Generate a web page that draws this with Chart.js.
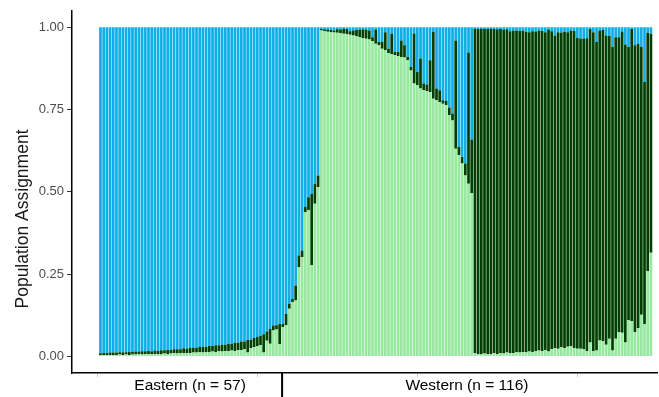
<!DOCTYPE html>
<html>
<head>
<meta charset="utf-8">
<script src="https://cdn.jsdelivr.net/npm/chart.js@4.4.1/dist/chart.umd.min.js"></script>
<style>
  html, body { margin: 0; padding: 0; background: #fff; }
  #wrap { width: 659px; height: 397px; }
</style>
</head>
<body>
<div id="wrap"><canvas id="structurePlot" width="659" height="397"></canvas></div>
<script>
// Population groups along the x axis
const groupLabels = ['Eastern (n = 57)', 'Western (n = 116)'];
const groupSizes = [57, 116];

const yTicks = [0, 0.25, 0.5, 0.75, 1];
const xTicks = [0, 50, 100, 150];

// Assignment probability of each individual to each cluster
const lightGreen = [
  0.004,0.004,0.005,0.005,0.004,0.005,0.006,0.005,0.006,0.005,
  0.006,0.006,0.007,0.006,0.007,0.007,0.008,0.007,0.008,0.008,
  0.009,0.008,0.009,0.010,0.009,0.010,0.011,0.010,0.011,0.012,
  0.012,0.013,0.012,0.014,0.013,0.015,0.014,0.016,0.015,0.017,
  0.016,0.018,0.017,0.020,0.019,0.022,0.012,0.025,0.028,0.031,
  0.035,0.012,0.048,0.039,0.079,0.082,0.038,0.089,0.095,0.145,
  0.165,0.170,0.271,0.302,0.439,0.444,0.277,0.464,0.515,0.990,
  0.988,0.986,0.985,0.984,0.983,0.982,0.980,0.979,0.977,0.975,
  0.973,0.970,0.967,0.965,0.963,0.958,0.950,0.945,0.935,0.930,
  0.922,0.918,0.915,0.912,0.910,0.908,0.900,0.869,0.829,0.824,
  0.814,0.809,0.806,0.803,0.783,0.778,0.773,0.768,0.763,0.733,
  0.717,0.631,0.611,0.586,0.550,0.525,0.496,0.010,0.008,0.008,
  0.009,0.007,0.008,0.010,0.008,0.011,0.009,0.012,0.010,0.011,
  0.013,0.012,0.014,0.013,0.015,0.014,0.016,0.018,0.016,0.020,
  0.015,0.022,0.025,0.024,0.028,0.026,0.030,0.032,0.026,0.024,
  0.024,0.022,0.016,0.043,0.016,0.018,0.049,0.047,0.036,0.054,
  0.018,0.054,0.074,0.072,0.043,0.111,0.108,0.074,0.086,0.127,
  0.099,0.260,0.315
];
const darkGreen = [
  0.006,0.007,0.006,0.007,0.008,0.007,0.007,0.008,0.007,0.009,
  0.008,0.009,0.008,0.010,0.009,0.010,0.008,0.011,0.009,0.011,
  0.010,0.012,0.011,0.012,0.013,0.012,0.014,0.014,0.016,0.015,
  0.014,0.016,0.018,0.016,0.019,0.017,0.020,0.018,0.021,0.019,
  0.023,0.021,0.025,0.022,0.027,0.024,0.038,0.026,0.029,0.028,
  0.027,0.056,0.028,0.045,0.015,0.013,0.061,0.010,0.035,0.015,
  0.010,0.046,0.036,0.020,0.015,0.040,0.217,0.061,0.035,0.005,
  0.006,0.007,0.007,0.006,0.011,0.011,0.016,0.016,0.011,0.015,
  0.019,0.023,0.027,0.028,0.027,0.012,0.043,0.010,0.020,0.055,
  0.013,0.062,0.010,0.013,0.050,0.037,0.010,0.010,0.152,0.040,
  0.091,0.020,0.020,0.097,0.203,0.036,0.036,0.010,0.013,0.023,
  0.021,0.329,0.025,0.020,0.036,0.398,0.163,0.986,0.987,0.988,
  0.986,0.988,0.988,0.985,0.986,0.984,0.984,0.982,0.978,0.979,
  0.977,0.977,0.976,0.973,0.970,0.974,0.971,0.972,0.973,0.965,
  0.978,0.966,0.950,0.961,0.956,0.960,0.955,0.958,0.963,0.944,
  0.942,0.944,0.951,0.952,0.969,0.937,0.941,0.945,0.939,0.920,
  0.922,0.916,0.896,0.915,0.905,0.829,0.887,0.871,0.864,0.813,
  0.735,0.723,0.665
];
const blue = [
  0.990,0.989,0.989,0.988,0.988,0.988,0.987,0.987,0.987,0.986,
  0.986,0.985,0.985,0.984,0.984,0.983,0.984,0.982,0.983,0.981,
  0.981,0.980,0.980,0.978,0.978,0.978,0.975,0.976,0.973,0.973,
  0.974,0.971,0.970,0.970,0.968,0.968,0.966,0.966,0.964,0.964,
  0.961,0.961,0.958,0.958,0.954,0.954,0.950,0.949,0.943,0.941,
  0.938,0.932,0.924,0.916,0.906,0.905,0.901,0.901,0.870,0.840,
  0.825,0.784,0.693,0.678,0.546,0.516,0.506,0.475,0.450,0.005,
  0.006,0.007,0.008,0.010,0.006,0.007,0.004,0.005,0.012,0.010,
  0.008,0.007,0.006,0.007,0.010,0.030,0.007,0.045,0.045,0.015,
  0.065,0.020,0.075,0.075,0.040,0.055,0.090,0.121,0.019,0.136,
  0.095,0.171,0.174,0.100,0.014,0.186,0.191,0.222,0.224,0.244,
  0.262,0.040,0.364,0.394,0.414,0.077,0.341,0.004,0.005,0.004,
  0.005,0.005,0.004,0.005,0.006,0.005,0.007,0.006,0.012,0.010,
  0.010,0.011,0.010,0.014,0.015,0.012,0.013,0.010,0.011,0.015,
  0.007,0.012,0.025,0.015,0.016,0.014,0.015,0.010,0.011,0.032,
  0.034,0.034,0.033,0.005,0.015,0.045,0.010,0.008,0.025,0.026,
  0.060,0.030,0.030,0.013,0.052,0.060,0.005,0.055,0.050,0.060,
  0.166,0.017,0.020
];

// individuals are numbered 1..N along a continuous x axis
const individuals = lightGreen.map((_, i) => i + 1);

const FONT = '"Liberation Sans", Arial, sans-serif';

// group labels, group divider and rotated y title
const groupPlugin = {
  id: 'groupLabels',
  afterDraw(chart) {
    const { ctx, chartArea, scales } = chart;
    const x = scales.x;
    ctx.save();
    ctx.fillStyle = '#000';
    ctx.textAlign = 'center';
    ctx.textBaseline = 'middle';
    ctx.font = '15.5px ' + FONT;
    let start = 1;
    groupSizes.forEach((n, gi) => {
      const end = start + n - 1;
      ctx.fillText(groupLabels[gi], x.getPixelForValue((start + end) / 2), 386);
      if (gi < groupSizes.length - 1) {
        const px = x.getPixelForValue(end + 0.75);
        ctx.beginPath();
        ctx.moveTo(px, chartArea.bottom);
        ctx.lineTo(px, chart.height);
        ctx.lineWidth = 2;
        ctx.strokeStyle = '#000';
        ctx.stroke();
      }
      start = end + 1;
    });

    ctx.translate(23, 219);
    ctx.rotate(-Math.PI / 2);
    ctx.font = '17.5px ' + FONT;
    ctx.fillStyle = '#1a1a1a';
    ctx.fillText('Population Assignment', 0, 0);
    ctx.restore();
  }
};

new Chart(document.getElementById('structurePlot'), {
  type: 'bar',
  data: {
    labels: individuals,
    datasets: [
      { label: 'Cluster 1', data: lightGreen, backgroundColor: '#98e8a0' },
      { label: 'Cluster 2', data: darkGreen, backgroundColor: '#033f03' },
      { label: 'Cluster 3', data: blue, backgroundColor: '#12aee5' }
    ]
  },
  options: {
    responsive: false,
    animation: false,
    layout: { padding: { top: 10, right: 2, left: 0, bottom: 0 } },
    datasets: {
      bar: { barPercentage: 0.85, categoryPercentage: 1, borderWidth: 0 }
    },
    plugins: {
      legend: { display: false },
      tooltip: { enabled: false }
    },
    scales: {
      x: {
        type: 'linear',
        stacked: true,
        offset: false,
        bounds: 'data',
        min: -7.9,
        max: 174.9,
        afterBuildTicks: (s) => { s.ticks = xTicks.map(v => ({ value: v })); },
        afterFit: (s) => { s.height = 24; },
        ticks: { display: false },
        grid: { offset: false, drawOnChartArea: false, drawTicks: true, tickLength: 4, color: '#c8c8c8' },
        border: { display: true, color: '#000', width: 1.5 }
      },
      y: {
        stacked: true,
        min: -0.05,
        max: 1.05,
        afterBuildTicks: (s) => { s.ticks = yTicks.map(v => ({ value: v })); },
        afterFit: (s) => { s.width = 72; },
        ticks: {
          color: '#4d4d4d',
          padding: 3,
          font: { family: FONT, size: 13 },
          callback: (v) => Number(v).toFixed(2)
        },
        grid: { drawOnChartArea: false, drawTicks: true, tickLength: 5, color: '#333' },
        border: { display: true, color: '#000', width: 1.5 }
      }
    }
  },
  plugins: [groupPlugin]
});
</script>
</body>
</html>
